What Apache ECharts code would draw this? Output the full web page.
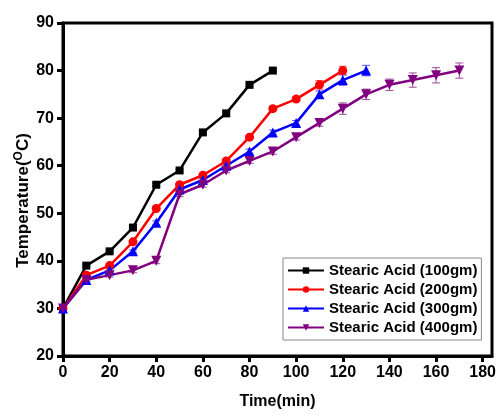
<!DOCTYPE html>
<html>
<head>
<meta charset="utf-8">
<script src="https://cdn.jsdelivr.net/npm/echarts@6/dist/echarts.min.js"></script>
<style>html,body{margin:0;padding:0;background:#fff;}#c{width:496px;height:416px;}</style>
</head>
<body>
<div id="c"></div>
<script>
// ---- data ----
var seriesNames = ['Stearic Acid (100gm)', 'Stearic Acid (200gm)', 'Stearic Acid (300gm)', 'Stearic Acid (400gm)'];
var time100 = [0, 10, 20, 30, 40, 50, 60, 70, 80, 90];
var temp100 = [30, 39, 42, 47, 56, 59, 67, 71, 77, 80];
var err100  = [0.3, 0.3, 0.3, 0.3, 0.3, 0.3, 0.3, 0.3, 0.3, 0.3];
var time200 = [0, 10, 20, 30, 40, 50, 60, 70, 80, 90, 100, 110, 120];
var temp200 = [30, 37, 39, 44, 51, 56, 58, 61, 66, 72, 74, 77, 80];
var err200  = [0.3, 0.3, 0.3, 0.3, 0.3, 0.3, 0.3, 0.4, 0.4, 0.5, 0.5, 0.9, 0.9];
var time300 = [0, 10, 20, 30, 40, 50, 60, 70, 80, 90, 100, 110, 120, 130];
var temp300 = [30, 36, 38, 42, 48, 55, 57, 60, 63, 67, 69, 75, 78, 80];
var err300  = [0.3, 0.3, 0.3, 0.3, 0.4, 0.4, 0.4, 0.4, 0.5, 0.5, 0.5, 0.7, 1.1, 1.1];
var time400 = [0, 10, 20, 30, 40, 50, 60, 70, 80, 90, 100, 110, 120, 130, 140, 150, 160, 170];
var temp400 = [30, 36, 37, 38, 40, 54, 56, 59, 61, 63, 66, 69, 72, 75, 77, 78, 79, 80];
var err400  = [0.3, 0.3, 0.4, 0.5, 0.6, 0.5, 0.5, 0.5, 0.5, 0.6, 0.6, 0.7, 1.2, 1.1, 1.2, 1.5, 1.6, 1.6];
var xTicks = [0, 20, 40, 60, 80, 100, 120, 140, 160, 180];
var yTicks = [20, 30, 40, 50, 60, 70, 80, 90];

// ---- build ----
var colors = ['#000000', '#ff0000', '#0000ff', '#800080'];
var errColors = ['#333333', '#ff5555', '#5555ff', '#9a4a9a'];
var symbols = ['rect', 'circle', 'triangle', 'triangle'];
var symRot = [0, 0, 0, 180];
var symSizes = [8, 9, 10, 10];
var times = [time100, time200, time300, time400];
var temps = [temp100, temp200, temp300, temp400];
var errs = [err100, err200, err300, err400];

function pairs(xs, ys) { return xs.map(function (x, i) { return [x, ys[i]]; }); }

var series = [];
for (var k = 0; k < 4; k++) {
  (function (k) {
    series.push({
      type: 'custom',
      silent: true,
      z: 1,
      data: times[k].map(function (x, i) { return [x, temps[k][i] - errs[k][i], temps[k][i] + errs[k][i]]; }),
      renderItem: function (params, api) {
        var lo = api.coord([api.value(0), api.value(1)]);
        var hi = api.coord([api.value(0), api.value(2)]);
        var w = 4;
        var st = { stroke: errColors[k], lineWidth: 1 };
        return {
          type: 'group',
          children: [
            { type: 'line', shape: { x1: lo[0], y1: lo[1], x2: hi[0], y2: hi[1] }, style: st },
            { type: 'line', shape: { x1: lo[0] - w, y1: lo[1], x2: lo[0] + w, y2: lo[1] }, style: st },
            { type: 'line', shape: { x1: hi[0] - w, y1: hi[1], x2: hi[0] + w, y2: hi[1] }, style: st }
          ]
        };
      }
    });
    series.push({
      name: seriesNames[k],
      type: 'line',
      z: 2,
      data: pairs(times[k], temps[k]),
      symbol: symbols[k],
      symbolRotate: symRot[k],
      symbolSize: symSizes[k],
      showAllSymbol: true,
      lineStyle: { color: colors[k], width: 2.5 },
      itemStyle: { color: colors[k] },
      animation: false
    });
  })(k);
}

var FONT = 'Liberation Sans, Arial, sans-serif';
var chart = echarts.init(document.getElementById('c'), null, { renderer: 'canvas' });
chart.setOption({
  backgroundColor: '#ffffff',
  animation: false,
  grid: { left: 63, right: 4, top: 23, bottom: 60, show: true, borderColor: '#000', borderWidth: 3, backgroundColor: 'transparent', containLabel: false, outerBoundsMode: 'none' },
  legend: {
    data: seriesNames,
    orient: 'vertical',
    left: 283,
    top: 258,
    itemWidth: 36,
    itemHeight: 8,
    itemGap: 4,
    padding: [5, 4, 5, 4],
    borderColor: '#888',
    borderWidth: 1,
    backgroundColor: '#fff',
    textStyle: { fontFamily: FONT, fontWeight: 'bold', fontSize: 15, color: '#000', lineHeight: 15 }
  },
  xAxis: {
    type: 'value', min: 0, max: 184, interval: 20,
    name: 'Time(min)', nameLocation: 'middle', nameGap: 38,
    nameMoveOverlap: false,
    nameTextStyle: { fontFamily: FONT, fontWeight: 'bold', fontSize: 16, color: '#000' },
    axisLine: { show: true, lineStyle: { color: '#000', width: 3 } },
    axisTick: { show: true, length: 6, lineStyle: { color: '#000', width: 3 }, customValues: xTicks },
    axisLabel: { fontFamily: FONT, fontWeight: 'bold', fontSize: 16, color: '#000', margin: 9, customValues: xTicks },
    splitLine: { show: false }
  },
  yAxis: {
    type: 'value', min: 20, max: 90, interval: 10,
    name: '{a|Temperature(}{s|O}{a|C)}', nameLocation: 'middle', nameGap: 30,
    nameMoveOverlap: false,
    nameTextStyle: {
      fontFamily: FONT, fontWeight: 'bold', fontSize: 17, color: '#000',
      padding: [0, 22, 0, 0],
      rich: {
        a: { fontFamily: FONT, fontWeight: 'bold', fontSize: 17, color: '#000' },
        s: { fontFamily: FONT, fontWeight: 'bold', fontSize: 12, color: '#000', verticalAlign: 'top', padding: [0, 0, 8, 0] }
      }
    },
    axisLine: { show: true, lineStyle: { color: '#000', width: 3 } },
    axisTick: { show: true, length: 6, lineStyle: { color: '#000', width: 3 }, customValues: yTicks },
    axisLabel: { fontFamily: FONT, fontWeight: 'bold', fontSize: 16, color: '#000', margin: 9, customValues: yTicks },
    splitLine: { show: false }
  },
  series: series
});
</script>
</body>
</html>
